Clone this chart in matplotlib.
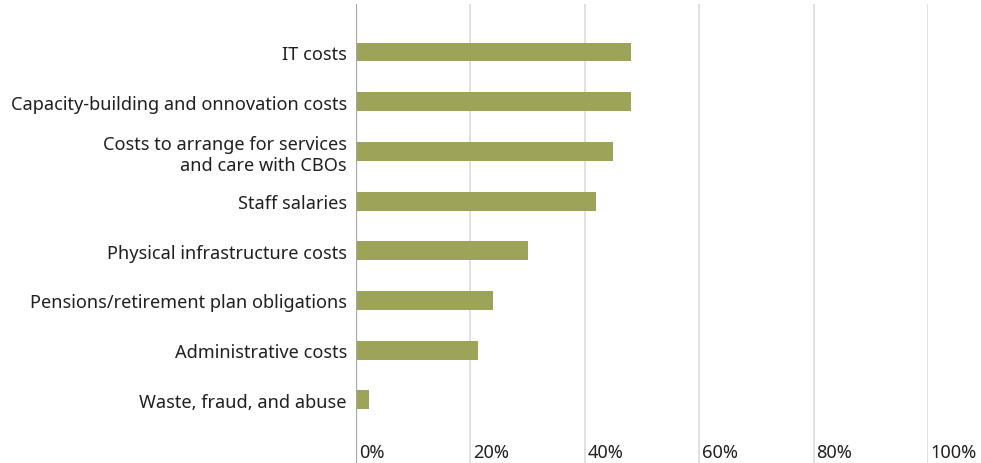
import matplotlib
matplotlib.use("Agg")
import matplotlib.pyplot as plt
from matplotlib.transforms import blended_transform_factory

categories = [
    "IT costs",
    "Capacity-building and onnovation costs",
    "Costs to arrange for services\nand care with CBOs",
    "Staff salaries",
    "Physical infrastructure costs",
    "Pensions/retirement plan obligations",
    "Administrative costs",
    "Waste, fraud, and abuse",
]
values = [48, 48, 45, 42, 30, 24, 21.3, 2.2]
xticks = [0, 20, 40, 60, 80, 100]
xtick_labels = ["0%", "20%", "40%", "60%", "80%", "100%"]

W, H = 981, 464
fig = plt.figure(figsize=(W / 100, H / 100), dpi=100)
plt.rcParams['font.family'] = ['Noto Sans', 'DejaVu Sans']

left, right = 356, 928
top, bottom = 5, 464
ax = fig.add_axes([left / W, 1 - bottom / H, (right - left) / W, (bottom - top) / H])

pos = list(range(len(categories)))
ax.barh(pos, values, height=0.38, color="#9EA35A", zorder=3)

ax.set_xlim(0, 100)
ax.set_ylim(8.27, -0.966)

for x in xticks:
    if x == 0:
        ax.axvline(x, color="#a6a6a6", lw=1.6, zorder=4)
    else:
        ax.axvline(x, color="#d9d9d9", lw=1.1, zorder=1)

for s in ax.spines.values():
    s.set_visible(False)

ax.set_xticks([])
ax.set_yticks(pos)
ax.set_yticklabels(categories, fontsize=13.1, color="#231f20", ha="right",
                   multialignment="right", linespacing=1.15)
ax.tick_params(axis="y", length=0, pad=6.5)

trans = blended_transform_factory(ax.transData, ax.transAxes)
for x, lab in zip(xticks, xtick_labels):
    ax.text(x + 0.5, 0.025, lab, transform=trans, ha="left", va="center",
            fontsize=13.1, color="#231f20")

fig.savefig("out.png", dpi=100)
